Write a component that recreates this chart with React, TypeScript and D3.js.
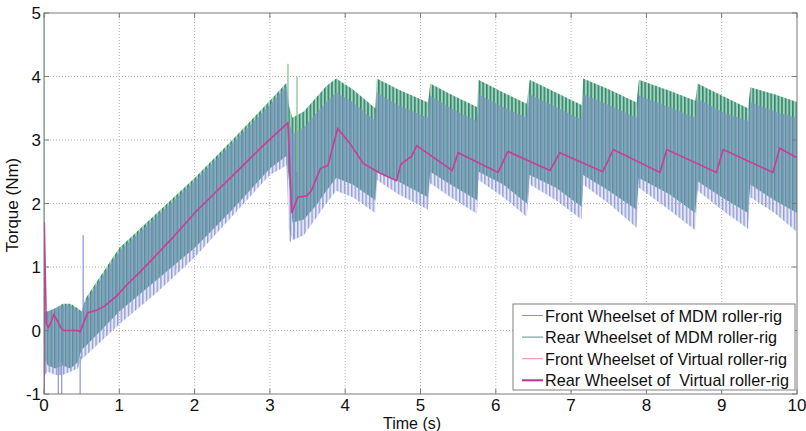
import React from "react";
import * as d3 from "d3";

// ---- data ----
const xTicks = [0, 1, 2, 3, 4, 5, 6, 7, 8, 9, 10];
const yTicks = [-1, 0, 1, 2, 3, 4, 5];

// Rear wheelset of MDM roller-rig: envelope of the dense oscillation
const rearT = [0, 0.01, 0.05, 0.15, 0.25, 0.35, 0.45, 0.5, 0.55, 1.0, 1.5, 2.0, 2.5, 3.0, 3.22, 3.25, 3.3, 3.45, 3.6, 3.75, 3.88, 4.1, 4.4, 4.42, 4.7, 5.1, 5.13, 5.4, 5.75, 5.77, 6.1, 6.41, 6.45, 6.8, 7.14, 7.16, 7.5, 7.87, 7.9, 8.3, 8.65, 8.68, 9.0, 9.35, 9.38, 9.7, 10];
const rearHi = [0.3, 0.3, 0.3, 0.35, 0.42, 0.42, 0.35, 0.3, 0.5, 1.3, 1.85, 2.4, 3.0, 3.62, 3.9, 3.55, 3.35, 3.45, 3.65, 3.85, 3.97, 3.8, 3.5, 3.97, 3.8, 3.59, 3.89, 3.72, 3.52, 3.95, 3.75, 3.57, 3.95, 3.75, 3.55, 3.97, 3.8, 3.59, 3.95, 3.78, 3.62, 3.89, 3.7, 3.5, 3.83, 3.72, 3.6];
const rearLo = [-0.1, -0.45, -0.55, -0.6, -0.55, -0.6, -0.5, -0.3, -0.25, 0.3, 0.8, 1.3, 1.9, 2.55, 2.75, 2.4, 1.7, 1.75, 1.95, 2.2, 2.4, 2.3, 2.05, 2.5, 2.35, 2.1, 2.5, 2.3, 2.05, 2.5, 2.3, 2.0, 2.45, 2.25, 1.95, 2.45, 2.2, 1.9, 2.4, 2.15, 1.85, 2.35, 2.1, 1.85, 2.3, 2.05, 1.85];

// Front wheelset of MDM roller-rig: envelope of the dense oscillation
const frontT = [0, 0.01, 0.05, 0.15, 0.25, 0.35, 0.45, 0.5, 0.55, 1.0, 1.5, 2.0, 2.5, 3.0, 3.22, 3.25, 3.3, 3.45, 3.6, 3.75, 3.88, 4.1, 4.4, 4.42, 4.7, 5.1, 5.13, 5.4, 5.75, 5.77, 6.1, 6.41, 6.45, 6.8, 7.14, 7.16, 7.5, 7.87, 7.9, 8.3, 8.65, 8.68, 9.0, 9.35, 9.38, 9.7, 10];
const frontHi = [0.25, 0.3, 0.3, 0.35, 0.4, 0.4, 0.32, 0.3, 0.45, 1.25, 1.8, 2.35, 2.95, 3.55, 3.85, 3.3, 3.1, 3.2, 3.4, 3.6, 3.75, 3.6, 3.3, 3.75, 3.55, 3.35, 3.7, 3.5, 3.3, 3.72, 3.52, 3.35, 3.72, 3.52, 3.32, 3.72, 3.55, 3.35, 3.7, 3.52, 3.35, 3.65, 3.45, 3.3, 3.6, 3.45, 3.35];
const frontLo = [-0.8, -0.7, -0.65, -0.7, -0.7, -0.65, -0.6, -0.45, -0.4, 0.1, 0.6, 1.15, 1.8, 2.45, 2.6, 1.6, 1.42, 1.5, 1.75, 2.0, 2.2, 2.1, 1.85, 2.37, 2.15, 1.9, 2.32, 2.1, 1.84, 2.37, 2.1, 1.79, 2.3, 2.05, 1.75, 2.3, 2.0, 1.62, 2.25, 1.9, 1.58, 2.2, 1.9, 1.6, 2.1, 1.85, 1.55];

// isolated spikes of the MDM signals
const spikeSeries = ["rear", "front", "front", "front", "front", "rear", "rear", "front", "front"];
const spikeT = [0.0, 0.19, 0.235, 0.48, 0.52, 3.24, 3.36, 3.27, 3.32];
const spikeLo = [-0.3, -1.0, -1.0, -1.0, 0.3, 2.9, 2.5, 1.4, 1.45];
const spikeHi = [5.0, -0.5, -0.5, -0.4, 1.5, 4.2, 4.0, 3.0, 3.0];

// Rear wheelset of Virtual roller-rig
const rearVirtT = [0, 0.004, 0.03, 0.06, 0.1, 0.13, 0.18, 0.22, 0.26, 0.45, 0.48, 0.52, 0.58, 0.7, 0.8, 0.97, 1.1, 1.3, 1.5, 1.7, 2.0, 2.3, 2.6, 2.9, 3.1, 3.24, 3.29, 3.37, 3.49, 3.55, 3.67, 3.77, 3.9, 4.06, 4.24, 4.46, 4.68, 4.74, 4.88, 4.95, 5.42, 5.5, 6.03, 6.16, 6.72, 6.85, 7.42, 7.56, 8.18, 8.27, 8.93, 9.02, 9.68, 9.77, 10];
const rearVirtV = [-1.0, 1.7, 0.1, 0.05, 0.15, 0.25, 0.15, 0.05, 0.0, 0.0, -0.02, 0.1, 0.28, 0.32, 0.38, 0.55, 0.72, 0.95, 1.2, 1.45, 1.85, 2.2, 2.55, 2.9, 3.12, 3.27, 1.85, 2.1, 2.12, 2.2, 2.55, 2.6, 3.18, 2.95, 2.63, 2.48, 2.36, 2.62, 2.74, 2.91, 2.52, 2.8, 2.49, 2.82, 2.52, 2.8, 2.5, 2.85, 2.49, 2.85, 2.49, 2.85, 2.49, 2.87, 2.72];

// Front wheelset of Virtual roller-rig
const frontVirtT = [0, 0.03, 0.06, 0.1, 0.13, 0.18, 0.22, 0.26, 0.45, 0.48, 0.52, 0.58, 0.7, 0.8, 0.97, 1.1, 1.3, 1.5, 1.7, 2.0, 2.3, 2.6, 2.9, 3.1, 3.24, 3.29, 3.37, 3.49, 3.55, 3.67, 3.77, 3.9, 4.06, 4.24, 4.46, 4.68, 4.74, 4.88, 4.95, 5.42, 5.5, 6.03, 6.16, 6.72, 6.85, 7.42, 7.56, 8.18, 8.27, 8.93, 9.02, 9.68, 9.77, 10];
const frontVirtV = [0.2, 0.12, 0.06, 0.16, 0.24, 0.14, 0.06, 0.0, 0.0, -0.02, 0.1, 0.27, 0.31, 0.38, 0.56, 0.73, 0.96, 1.22, 1.46, 1.86, 2.22, 2.56, 2.92, 3.13, 3.27, 1.9, 2.1, 2.13, 2.22, 2.55, 2.62, 3.16, 2.94, 2.62, 2.48, 2.36, 2.6, 2.74, 2.9, 2.52, 2.8, 2.49, 2.81, 2.52, 2.8, 2.5, 2.84, 2.49, 2.84, 2.49, 2.84, 2.49, 2.86, 2.72];

const legendLabels = [
  "Front Wheelset of MDM roller-rig",
  "Rear Wheelset of MDM roller-rig",
  "Front Wheelset of Virtual roller-rig",
  "Rear Wheelset of  Virtual roller-rig",
];
const legendColors = ["#8793d2", "#5e8f8a", "#f08898", "#b8349a"];
const legendWidths = [1, 1, 1, 2];
const legendTextLen = [237, 232, 242, 244];

const FONT = "'Liberation Sans Narrow', 'Arial Narrow', 'Liberation Sans', Arial, sans-serif";

export default function App() {
  const W = 806, H = 431;
  const L = 44, R = 797, T = 13, B = 394;
  const x = d3.scaleLinear().domain([0, 10]).range([L, R]);
  const y = d3.scaleLinear().domain([-1, 5]).range([B, T]);

  const band = (ts: number[], hi: number[], lo: number[]) =>
    d3.area<number>()
      .x((_, i) => x(ts[i]))
      .y0((_, i) => y(lo[i]))
      .y1((_, i) => y(hi[i]))(ts.map((_, i) => i)) || "";

  const line = (ts: number[], vs: number[]) =>
    d3.line<number>().x((_, i) => x(ts[i])).y((_, i) => y(vs[i]))(ts.map((_, i) => i)) || "";

  const gridColor = "#9a9a9a";
  const axisColor = "#7a7a7a";

  return (
    <svg width={W} height={H} style={{ position: "absolute", left: 0, top: 0, background: "#fff" }}
      fontFamily={FONT}>
      <defs>
        <clipPath id="plotClip">
          <rect x={L} y={T} width={R - L} height={B - T} />
        </clipPath>
        <pattern id="rearPat" patternUnits="userSpaceOnUse" width={3.6} height={10}>
          <rect x={0} y={0} width={3.6} height={10} fill="#a2d6ae" />
          <rect x={0} y={0} width={1.6} height={10} fill="#34817e" />
        </pattern>
        <pattern id="frontPat" patternUnits="userSpaceOnUse" width={3.6} height={10}>
          <rect x={0} y={0} width={3.6} height={10} fill="#aab2e2" opacity={0.3} />
          <rect x={2.0} y={0} width={1.1} height={10} fill="#6f7fc6" opacity={0.9} />
        </pattern>
      </defs>

      <rect x={0} y={0} width={W} height={H} fill="#fff" />

      {/* grid */}
      <g stroke={gridColor} strokeWidth={0.8} strokeDasharray="1,2">
        {xTicks.slice(1, -1).map((t) => (
          <line key={"gx" + t} x1={x(t)} x2={x(t)} y1={T} y2={B} />
        ))}
        {yTicks.slice(1, -1).map((v) => (
          <line key={"gy" + v} x1={L} x2={R} y1={y(v)} y2={y(v)} />
        ))}
      </g>

      {/* data */}
      <g clipPath="url(#plotClip)">
        <path d={band(rearT, rearHi, rearLo)} fill="url(#rearPat)" />
        <path d={band(frontT, frontHi, frontLo)} fill="url(#frontPat)" />
        {spikeT.map((t, i) => (
          <line key={"sp" + i} x1={x(t)} x2={x(t)} y1={y(spikeLo[i])} y2={y(spikeHi[i])}
            stroke={spikeSeries[i] === "rear" ? "#7cc08e" : "#8793d2"} strokeWidth={1.2} />
        ))}
        <path d={line(frontVirtT, frontVirtV)} fill="none" stroke="#e8708a" strokeWidth={1} />
        <path d={line(rearVirtT, rearVirtV)} fill="none" stroke="#c0409c" strokeWidth={1.6} />
      </g>

      {/* axes box */}
      <rect x={L} y={T} width={R - L} height={B - T} fill="none" stroke={axisColor} strokeWidth={1} />
      <g stroke={axisColor} strokeWidth={1}>
        {xTicks.map((t) => (
          <g key={"xt" + t}>
            <line x1={x(t)} x2={x(t)} y1={B} y2={B - 5} />
            <line x1={x(t)} x2={x(t)} y1={T} y2={T + 5} />
          </g>
        ))}
        {yTicks.map((v) => (
          <g key={"yt" + v}>
            <line x1={L} x2={L + 5} y1={y(v)} y2={y(v)} />
            <line x1={R} x2={R - 5} y1={y(v)} y2={y(v)} />
          </g>
        ))}
      </g>

      {/* tick labels */}
      <g fontSize={17} fill="#111">
        {xTicks.map((t) => (
          <text key={"xl" + t} x={x(t)} y={B + 17} textAnchor="middle">{t}</text>
        ))}
        {yTicks.map((v) => (
          <text key={"yl" + v} x={L - 3} y={y(v) + 6} textAnchor="end">{v}</text>
        ))}
      </g>

      {/* axis titles */}
      <text x={412} y={429} textAnchor="middle" fontSize={16} fill="#111">Time (s)</text>
      <text transform="translate(18,205) rotate(-90)" textAnchor="middle" fontSize={17} fill="#111">Torque (Nm)</text>

      {/* legend */}
      <g>
        <rect x={513} y={304} width={282} height={86} fill="#fff" stroke="#808080" strokeWidth={1} />
        {legendLabels.map((lab, i) => {
          const cy = 315.5 + i * 21.6;
          return (
            <g key={"lg" + i}>
              <line x1={522} x2={543} y1={cy} y2={cy} stroke={legendColors[i]} strokeWidth={legendWidths[i]} />
              <text x={545} y={cy + 6} fontSize={17} fill="#111" style={{ whiteSpace: "pre" }}
                textLength={legendTextLen[i]} lengthAdjust="spacingAndGlyphs">{lab}</text>
            </g>
          );
        })}
      </g>
    </svg>
  );
}
